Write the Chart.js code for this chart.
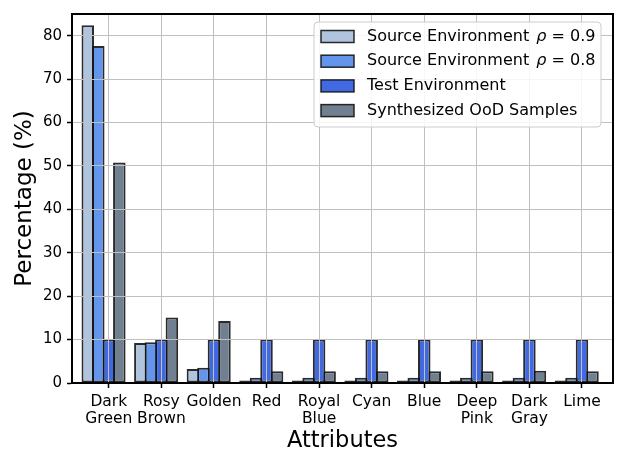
<!DOCTYPE html>
<html lang="en">
<head>
<meta charset="UTF-8">
<title>Attribute Percentages</title>
<script src="https://cdn.jsdelivr.net/npm/chart.js"></script>
<style>
  html, body { margin: 0; padding: 0; background: #fff; }
  #wrap { width: 623px; height: 467px; }
</style>
</head>
<body>
<div id="wrap"><canvas id="attrChart"></canvas></div>
<script>
// categories (multi-line labels as arrays)
const attributes = [['Dark', 'Green'], ['Rosy', 'Brown'], 'Golden', 'Red', ['Royal', 'Blue'],
                    'Cyan', 'Blue', ['Deep', 'Pink'], ['Dark', 'Gray'], 'Lime'];

const seriesLabels = ['Source Environment ρ = 0.9', 'Source Environment ρ = 0.8',
                      'Test Environment', 'Synthesized OoD Samples'];

// values (%)
const source09 = [82.4, 9.2, 3.2, 0.6, 0.6, 0.6, 0.6, 0.6, 0.6, 0.6];
const source08 = [77.6, 9.4, 3.5, 1.2, 1.2, 1.2, 1.2, 1.2, 1.2, 1.2];
const testEnv = [10, 10, 10, 10, 10, 10, 10, 10, 10, 10];
const oodSamples = [50.8, 15.1, 14.3, 2.7, 2.7, 2.7, 2.7, 2.7, 2.8, 2.7];

const seriesColors = ['#b0c4de', '#6495ed', '#4169e1', '#708090'];
const yTicks = [0, 10, 20, 30, 40, 50, 60, 70, 80];

Chart.defaults.font.family = "'DejaVu Sans', sans-serif";
Chart.defaults.color = '#000';

const edgeColor = 'rgba(20, 20, 20, 0.9)';
const allSeries = [source09, source08, testEnv, oodSamples];
const datasets = allSeries.map((vals, i) => ({
    label: seriesLabels[i],
    data: vals,
    backgroundColor: seriesColors[i],
    borderColor: edgeColor,
    borderWidth: 2,
    borderSkipped: false,
    barPercentage: 1.19,
    categoryPercentage: 1,
}));
// empty 5th slot so the test bar sits on the tick like the original
datasets.push({ label: '', data: attributes.map(() => null), barPercentage: 1.19, categoryPercentage: 1 });

// top/right spines and the in-plot legend
const boxLegend = {
    id: 'boxLegend',
    afterDraw(chart) {
        const { ctx, chartArea } = chart;
        ctx.save();
        ctx.strokeStyle = '#000';
        ctx.lineWidth = 2;
        ctx.beginPath();
        ctx.moveTo(chartArea.left, chartArea.top);
        ctx.lineTo(chartArea.right, chartArea.top);
        ctx.lineTo(chartArea.right, chartArea.bottom);
        ctx.stroke();

        const w = 287, h = 105;
        const x = chartArea.right - 12 - w, y = chartArea.top + 8;
        ctx.beginPath();
        ctx.roundRect(x, y, w, h, 4);
        ctx.fillStyle = 'rgba(255, 255, 255, 0.85)';
        ctx.fill();
        ctx.strokeStyle = '#cccccc';
        ctx.lineWidth = 1;
        ctx.stroke();

        const font = "16px 'DejaVu Sans'";
        seriesLabels.forEach((lab, i) => {
            const cy = y + 14.5 + i * 24.7;
            ctx.fillStyle = seriesColors[i];
            ctx.fillRect(x + 7, cy - 6, 33, 12);
            ctx.strokeStyle = edgeColor;
            ctx.lineWidth = 1.5;
            ctx.strokeRect(x + 7, cy - 6, 33, 12);

            ctx.fillStyle = '#000';
            ctx.textBaseline = 'middle';
            ctx.textAlign = 'left';
            let tx = x + 53;
            const parts = lab.split('ρ');
            ctx.font = font;
            ctx.fillText(parts[0], tx, cy);
            if (parts.length > 1) {
                tx += ctx.measureText(parts[0]).width + 2;
                ctx.font = "italic 16px 'DejaVu Sans'";
                ctx.fillText('ρ', tx, cy);
                tx += ctx.measureText('ρ').width;
                ctx.font = font;
                ctx.fillText(parts[1], tx, cy);
            }
        });
        ctx.restore();
    }
};

new Chart(document.getElementById('attrChart'), {
    type: 'bar',
    data: { labels: attributes.map((_, i) => i), datasets: datasets },
    options: {
        responsive: true,
        maintainAspectRatio: false,
        animation: false,
        layout: { padding: { left: 0, right: 10, top: 14, bottom: 0 } },
        plugins: { legend: { display: false }, tooltip: { enabled: false } },
        scales: {
            x: {
                type: 'linear',
                min: -0.7,
                max: 9.59,
                offset: false,
                afterFit(s) { s.height = 84; },
                ticks: {
                    stepSize: 1,
                    includeBounds: false,
                    autoSkip: false,
                    maxRotation: 0,
                    minRotation: 0,
                    padding: 5,
                    color: '#000',
                    font: { size: 15.5, lineHeight: 1.1 },
                    callback: v => attributes[v] ?? ''
                },
                grid: { offset: false, color: '#c0c0c0', lineWidth: 1, z: 1,
                        tickLength: 5, tickColor: '#000', tickWidth: 1.5 },
                border: { color: '#000', width: 2, z: 2 },
                title: { display: true, text: 'Attributes', color: '#000',
                         font: { size: 22.5, lineHeight: 1 }, padding: { top: 0, bottom: 14.75 } }
            },
            y: {
                min: 0,
                max: 85,
                afterFit(s) { s.width = 72; },
                ticks: {
                    stepSize: 10,
                    includeBounds: false,
                    padding: 5,
                    color: '#000',
                    font: { size: 15 },
                    callback: v => yTicks.includes(v) ? v : ''
                },
                grid: { color: '#c0c0c0', lineWidth: 1, z: 1,
                        tickLength: 5, tickColor: '#000', tickWidth: 1.5 },
                border: { color: '#000', width: 2, z: 2 },
                title: { display: true, text: 'Percentage (%)', color: '#000',
                         font: { size: 23, lineHeight: 1 }, padding: { top: 13.5, bottom: 0 } }
            }
        }
    },
    plugins: [boxLegend]
});
</script>
</body>
</html>
